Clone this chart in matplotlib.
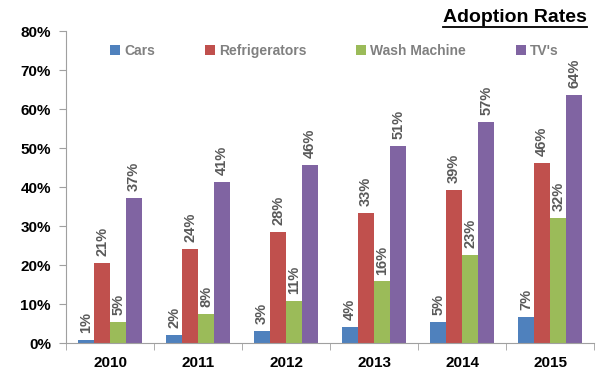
import matplotlib
matplotlib.use('Agg')
import matplotlib.pyplot as plt
from matplotlib.lines import Line2D
import numpy as np

plt.rcParams['font.family'] = ['Liberation Sans', 'DejaVu Sans']

# data
years = ['2010', '2011', '2012', '2013', '2014', '2015']
series_names = ['Cars', 'Refrigerators', 'Wash Machine', "TV's"]
cars = [0.8, 2.0, 3.0, 4.1, 5.4, 6.7]
refrigerators = [20.6, 24.1, 28.4, 33.3, 39.2, 46.2]
wash_machine = [5.3, 7.5, 10.8, 15.8, 22.6, 32.0]
tvs = [37.2, 41.2, 45.6, 50.6, 56.7, 63.6]
colors = ['#4f81bd', '#c0504d', '#9bbb59', '#8064a2']

fig = plt.figure(figsize=(5.96, 3.85), dpi=100)
ax = fig.add_axes([0.111, 0.109, 0.886, 0.81])

x = np.arange(len(years))
w = 0.182
all_series = [cars, refrigerators, wash_machine, tvs]
for i, (vals, name, col) in enumerate(zip(all_series, series_names, colors)):
    pos = x + (i - 1.5) * w
    ax.bar(pos, vals, width=w, color=col, label=name, zorder=2)
    for p, v in zip(pos, vals):
        ax.annotate(f'{round(v):d}%', (p, v), xytext=(0, 5), textcoords='offset points',
                    rotation=90, ha='center', va='bottom', fontsize=10.5,
                    fontweight='bold', color='#595959')

ax.set_xlim(-0.5, len(years) - 0.5)
ax.set_ylim(0, 80)
ax.set_yticks(range(0, 81, 10))
ax.set_yticklabels([f'{t}%' for t in range(0, 81, 10)], fontsize=11, fontweight='bold')
ax.set_xticks(x)
ax.set_xticklabels(years, fontsize=11, fontweight='bold')
ax.set_xticks(np.arange(-0.5, len(years)), minor=True)
ax.tick_params(axis='x', which='major', length=0, pad=9)
ax.tick_params(axis='x', which='minor', length=5, color='#a0a0a0')
ax.tick_params(axis='y', length=5, color='#a0a0a0', pad=6)
for s in ['top', 'right']:
    ax.spines[s].set_visible(False)
for s in ['left', 'bottom']:
    ax.spines[s].set_color('#a0a0a0')

leg = ax.legend(loc='upper left', bbox_to_anchor=(0.06, 1.0), ncol=4, frameon=False,
                handlelength=0.7, handleheight=0.7, handletextpad=0.3,
                columnspacing=3.6, prop={'weight': 'bold', 'size': 10})
for t in leg.get_texts():
    t.set_color('#808080')

title = fig.text(0.985, 0.942, 'Adoption Rates', ha='right', va='baseline',
                 fontsize=14, fontweight='bold')
fig.canvas.draw()
bb = title.get_window_extent().transformed(fig.transFigure.inverted())
fig.add_artist(Line2D([bb.x0, bb.x1], [0.93, 0.93], color='black', lw=1.3,
                      transform=fig.transFigure))

fig.savefig('out.png', dpi=100)
